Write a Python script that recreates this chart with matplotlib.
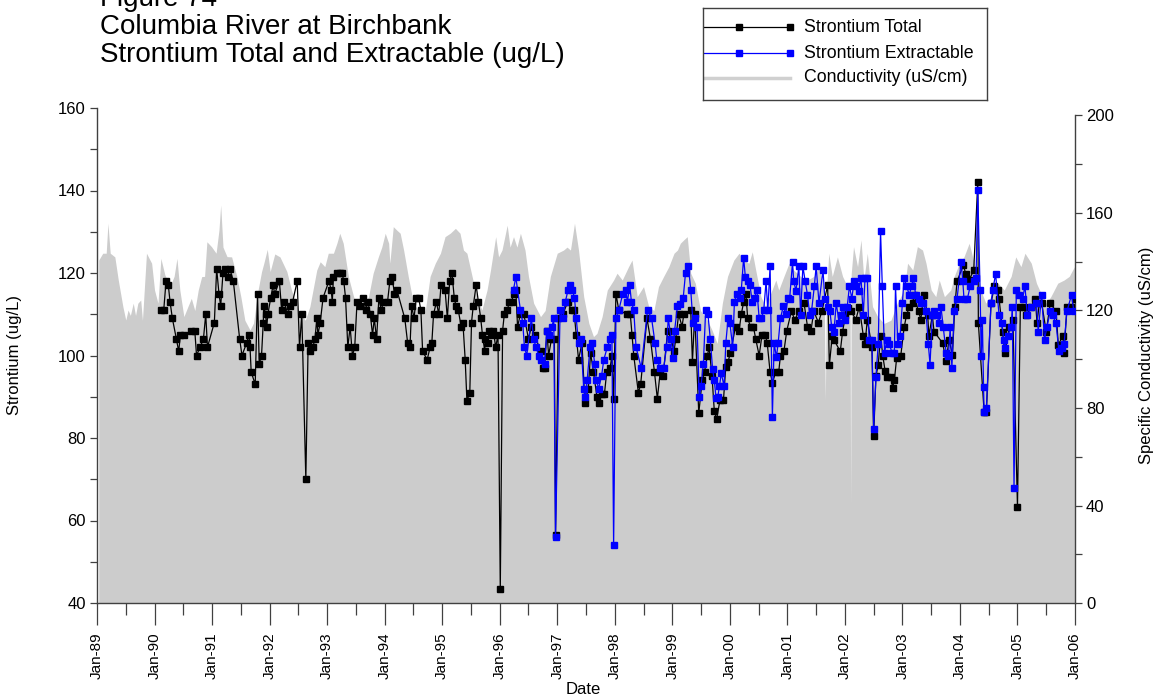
import numpy as np
import matplotlib
matplotlib.use("Agg")
import matplotlib.pyplot as plt
from matplotlib.lines import Line2D

plt.rcParams['font.family'] = ['Liberation Sans', 'DejaVu Sans']

# ---------------- data (decimal years, values) ----------------
total_year = [
    1990.11, 1990.16, 1990.20, 1990.24, 1990.27, 1990.31, 1990.38, 1990.42, 1990.45, 1990.51,
    1990.64, 1990.70, 1990.73, 1990.79, 1990.85, 1990.89, 1990.92, 1991.04, 1991.08, 1991.12,
    1991.15, 1991.19, 1991.23, 1991.27, 1991.31, 1991.37, 1991.48, 1991.52, 1991.60, 1991.64,
    1991.66, 1991.68, 1991.75, 1991.79, 1991.82, 1991.86, 1991.89, 1991.90, 1991.93, 1991.95,
    1991.97, 1992.02, 1992.06, 1992.09, 1992.17, 1992.21, 1992.25, 1992.32, 1992.35, 1992.40,
    1992.48, 1992.52, 1992.56, 1992.63, 1992.67, 1992.71, 1992.75, 1992.79, 1992.82, 1992.84,
    1992.88, 1992.93, 1993.03, 1993.07, 1993.09, 1993.11, 1993.18, 1993.22, 1993.26, 1993.29,
    1993.32, 1993.36, 1993.40, 1993.44, 1993.48, 1993.52, 1993.57, 1993.63, 1993.67, 1993.71,
    1993.75, 1993.79, 1993.82, 1993.86, 1993.90, 1993.94, 1993.98, 1994.05, 1994.09, 1994.13,
    1994.17, 1994.21, 1994.35, 1994.40, 1994.44, 1994.47, 1994.51, 1994.55, 1994.59, 1994.63,
    1994.66, 1994.74, 1994.79, 1994.82, 1994.85, 1994.90, 1994.94, 1994.98, 1995.05, 1995.09,
    1995.13, 1995.17, 1995.21, 1995.24, 1995.28, 1995.33, 1995.36, 1995.40, 1995.43, 1995.48,
    1995.51, 1995.54, 1995.59, 1995.63, 1995.67, 1995.70, 1995.74, 1995.75, 1995.79, 1995.82,
    1995.86, 1995.89, 1995.93, 1995.97, 1996.01, 1996.05, 1996.08, 1996.13, 1996.17, 1996.21,
    1996.24, 1996.28, 1996.31, 1996.36, 1996.42, 1996.50, 1996.55, 1996.61, 1996.71, 1996.75,
    1996.78, 1996.82, 1996.85, 1996.90, 1996.95, 1996.97, 1997.02, 1997.10, 1997.18, 1997.25,
    1997.29, 1997.33, 1997.37, 1997.43, 1997.48, 1997.54, 1997.58, 1997.63, 1997.69, 1997.72,
    1997.77, 1997.82, 1997.86, 1997.92, 1997.95, 1997.98, 1998.02, 1998.07, 1998.21, 1998.27,
    1998.30, 1998.33, 1998.41, 1998.45, 1998.56, 1998.62, 1998.69, 1998.74, 1998.79, 1998.84,
    1998.92, 1998.98, 1999.03, 1999.06, 1999.11, 1999.17, 1999.20, 1999.32, 1999.35, 1999.39,
    1999.46, 1999.52, 1999.56, 1999.61, 1999.64, 1999.69, 1999.73, 1999.77, 1999.83, 1999.89,
    1999.93, 1999.97, 2000.01, 2000.10, 2000.16, 2000.20, 2000.24, 2000.28, 2000.31, 2000.36,
    2000.41, 2000.45, 2000.51, 2000.56, 2000.62, 2000.65, 2000.70, 2000.74, 2000.80, 2000.85,
    2000.88, 2000.94, 2000.99, 2001.07, 2001.13, 2001.20, 2001.29, 2001.35, 2001.41, 2001.46,
    2001.54, 2001.60, 2001.70, 2001.73, 2001.78, 2001.81, 2001.92, 2001.96, 2002.01, 2002.06,
    2002.11, 2002.19, 2002.25, 2002.32, 2002.35, 2002.39, 2002.47, 2002.50, 2002.54, 2002.58,
    2002.62, 2002.66, 2002.70, 2002.74, 2002.80, 2002.83, 2002.86, 2002.90, 2002.97, 2003.03,
    2003.07, 2003.12, 2003.18, 2003.20, 2003.28, 2003.32, 2003.37, 2003.44, 2003.46, 2003.52,
    2003.55, 2003.70, 2003.76, 2003.81, 2003.87, 2003.91, 2003.95, 2004.06, 2004.10, 2004.16,
    2004.24, 2004.31, 2004.32, 2004.42, 2004.46, 2004.54, 2004.60, 2004.66, 2004.68, 2004.74,
    2004.78, 2004.86, 2004.92, 2005.00, 2005.05, 2005.11, 2005.15, 2005.24, 2005.31, 2005.34,
    2005.38, 2005.42, 2005.50, 2005.57, 2005.67, 2005.71, 2005.79, 2005.81, 2005.86, 2005.93,
    2006.00,
]
total_val = [
    111, 111, 118, 117, 113, 109, 104, 101, 105, 105,
    106, 106, 100, 102, 104, 110, 102, 108, 121, 115,
    112, 120, 121, 119, 121, 118, 104, 100, 103, 105,
    102, 96, 93, 115, 98, 100, 108, 112, 110, 107,
    110, 114, 117, 115, 118, 111, 113, 110, 112, 113,
    118, 102, 110, 70, 103, 101, 102, 104, 109, 105,
    108, 114, 118, 116, 113, 119, 120, 120, 120, 118,
    114, 102, 107, 100, 102, 113, 112, 114, 111, 113,
    110, 105, 109, 104, 114, 111, 113, 113, 118, 119,
    115, 116, 109, 103, 102, 112, 109, 114, 114, 111,
    101, 99, 102, 103, 110, 113, 110, 117, 116, 109,
    118, 120, 114, 112, 111, 107, 108, 99, 89, 91,
    108, 112, 117, 113, 109, 105, 101, 104, 103, 106,
    105, 106, 102, 105, 43.3, 106, 110, 111, 113, 113,
    115, 116, 107, 110, 110, 104, 107, 105, 101, 97,
    97, 106, 100, 104, 104, 56.5, 109, 110, 113, 111,
    111, 105, 99, 103, 88.5, 92, 100.6, 96, 90, 88.5,
    90.6, 90.6, 96, 97, 100, 89.5, 115, 111, 110, 110,
    105, 100, 91, 93, 109, 104, 96, 89.5, 96, 95,
    106, 104, 101, 104, 110, 107, 110, 111, 98.5, 110,
    86, 94, 96, 100, 102, 95, 86.6, 84.5, 89.3, 89.3,
    97.3, 98.5, 100.7, 107, 106, 110, 113, 115, 109, 107,
    107, 104, 100, 105, 105, 103, 96, 93.4, 96, 96,
    100, 101, 106, 110.7, 108.7, 110.7, 112.7, 107, 106, 110.7,
    108, 110.7, 117, 97.6, 104.8, 103.8, 101, 105.8, 109.7, 111.4,
    110.7, 108.7, 111.8, 104.8, 102.8, 108.7, 102, 80.6, 95, 97.8,
    104.8, 99.8, 96.2, 94.8, 94.8, 92.2, 94, 99.4, 99.8, 106.8,
    109.7, 111.8, 112.7, 114.7, 110.7, 108.7, 114.7, 109.7, 104.8, 109.7,
    105.8, 103, 98.6, 103.8, 100.2, 111.8, 118, 121.9, 119.8, 118.3,
    120.7, 142, 107.9, 86.4, 86.4, 112.7, 116.9, 115.8, 113.8, 105.8,
    100.7, 106.8, 108.7, 63.3, 111.8, 111.8, 109.7, 111.8, 113.8, 107.9,
    112.7, 112.7, 105.8, 112.7, 110.7, 102.6, 104.8, 100.7, 111.8, 111.8,
    113.8,
]

extr_year = [
    1996.24, 1996.28, 1996.36, 1996.40, 1996.43, 1996.47, 1996.55, 1996.59, 1996.63, 1996.68,
    1996.71, 1996.78, 1996.82, 1996.86, 1996.91, 1996.94, 1996.97, 1997.05, 1997.10, 1997.14,
    1997.19, 1997.23, 1997.26, 1997.30, 1997.33, 1997.37, 1997.41, 1997.46, 1997.49, 1997.52,
    1997.57, 1997.61, 1997.65, 1997.68, 1997.72, 1997.77, 1997.81, 1997.87, 1997.92, 1997.95,
    1997.98, 1998.02, 1998.07, 1998.14, 1998.19, 1998.22, 1998.26, 1998.29, 1998.33, 1998.37,
    1998.46, 1998.57, 1998.64, 1998.70, 1998.73, 1998.79, 1998.85, 1998.90, 1998.93, 1998.98,
    1999.01, 1999.04, 1999.09, 1999.14, 1999.19, 1999.23, 1999.28, 1999.32, 1999.36, 1999.39,
    1999.43, 1999.47, 1999.50, 1999.54, 1999.58, 1999.62, 1999.66, 1999.70, 1999.73, 1999.76,
    1999.79, 1999.82, 1999.85, 1999.90, 1999.93, 1999.97, 2000.00, 2000.05, 2000.08, 2000.12,
    2000.17, 2000.20, 2000.24, 2000.27, 2000.31, 2000.35, 2000.39, 2000.43, 2000.47, 2000.51,
    2000.55, 2000.59, 2000.63, 2000.66, 2000.70, 2000.74, 2000.77, 2000.81, 2000.84, 2000.88,
    2000.93, 2000.97, 2001.01, 2001.04, 2001.09, 2001.11, 2001.15, 2001.20, 2001.23, 2001.27,
    2001.31, 2001.35, 2001.39, 2001.42, 2001.47, 2001.50, 2001.55, 2001.62, 2001.65, 2001.71,
    2001.74, 2001.77, 2001.81, 2001.85, 2001.90, 2001.93, 2001.97, 2002.01, 2002.04, 2002.08,
    2002.12, 2002.16, 2002.20, 2002.24, 2002.28, 2002.32, 2002.35, 2002.39, 2002.42, 2002.47,
    2002.50, 2002.54, 2002.58, 2002.62, 2002.65, 2002.69, 2002.73, 2002.77, 2002.82, 2002.86,
    2002.88, 2002.92, 2002.96, 2003.00, 2003.03, 2003.07, 2003.12, 2003.16, 2003.19, 2003.23,
    2003.28, 2003.32, 2003.36, 2003.41, 2003.45, 2003.48, 2003.52, 2003.55, 2003.60, 2003.64,
    2003.67, 2003.71, 2003.76, 2003.80, 2003.83, 2003.86, 2003.90, 2003.95, 2004.02, 2004.05,
    2004.07, 2004.13, 2004.18, 2004.24, 2004.28, 2004.31, 2004.35, 2004.37, 2004.39, 2004.41,
    2004.42, 2004.46, 2004.54, 2004.57, 2004.62, 2004.68, 2004.73, 2004.76, 2004.78, 2004.83,
    2004.89, 2004.91, 2004.94, 2004.98, 2005.03, 2005.09, 2005.13, 2005.17, 2005.24, 2005.33,
    2005.36, 2005.42, 2005.47, 2005.51, 2005.57, 2005.61, 2005.67, 2005.72, 2005.77, 2005.81,
    2005.86, 2005.94, 2005.98,
]
extr_val = [
    116, 119, 111, 108, 102, 100, 109, 104, 102, 100,
    99, 98, 106, 105, 107, 109, 56, 111, 109, 113,
    116, 117, 116, 114, 109, 103, 104, 92, 90, 94,
    102, 103, 98, 94, 92, 95, 99, 102, 104, 105,
    54, 109, 111, 115, 116, 113, 117, 113, 111, 102,
    97, 111, 109, 103, 99, 97, 97, 102, 109, 104,
    99.4, 106, 112, 112.5, 114, 120, 121.6, 116, 108, 109,
    107, 90, 92.6, 98, 111, 110, 104, 96.7, 94, 89.7,
    90, 92.5, 95.7, 92.6, 103, 109, 108, 102, 113, 115,
    114, 116, 123.7, 119, 118, 117, 113, 114, 116, 109,
    109, 111, 118, 111, 121.6, 85, 103, 99.6, 103, 109,
    112, 110, 114, 113.8, 122.6, 118, 115.7, 121.6, 109.7, 121.6,
    118, 114.7, 109.7, 110.7, 116.9, 121.6, 112.7, 120.7, 113.8, 111.8,
    110.7, 107, 105.8, 112.7, 107.9, 109.7, 111.8, 108.7, 111.8, 116.9,
    113.8, 118, 116.9, 115.7, 118.8, 109.7, 118.8, 118.8, 103.8, 103.8,
    82.3, 94.9, 102.8, 130.1, 116.9, 100.7, 103.8, 102.8, 100.7, 100.7,
    116.9, 102.8, 104.8, 112.7, 118.8, 116.9, 114.7, 116.9, 118.8, 114.7,
    113.8, 112.7, 112.7, 110.7, 102.8, 97.8, 109.7, 110.7, 109.7, 107.9,
    111.8, 106.8, 100.7, 99.8, 106.8, 97, 110.7, 113.8, 122.6, 118,
    113.8, 113.8, 116.9, 118, 118.8, 140.2, 115.8, 99.8, 108.7, 92.4,
    86.2, 87.3, 112.7, 115.8, 119.8, 109.7, 107.9, 103.8, 101.8, 104.8,
    106.8, 111.8, 68, 115.8, 114.7, 113.8, 116.9, 109.7, 111.8, 112.7,
    105.8, 114.7, 103.8, 106.8, 110.7, 109.7, 107.9, 101, 101.8, 102.8,
    110.7, 114.7, 110.7,
]

cond_year = [
    1989.03, 1989.10, 1989.16, 1989.19, 1989.23, 1989.31, 1989.37, 1989.45, 1989.50, 1989.54,
    1989.58, 1989.63, 1989.67, 1989.71, 1989.76, 1989.79, 1989.86, 1989.95, 1990.00, 1990.06,
    1990.11, 1990.18, 1990.27, 1990.34, 1990.39, 1990.44, 1990.51, 1990.58, 1990.64, 1990.70,
    1990.76, 1990.82, 1990.87, 1990.91, 1990.99, 1991.07, 1991.12, 1991.15, 1991.19, 1991.26,
    1991.34, 1991.43, 1991.50, 1991.57, 1991.66, 1991.72, 1991.80, 1991.86, 1991.90, 1991.96,
    1992.01, 1992.09, 1992.18, 1992.30, 1992.38, 1992.50, 1992.62, 1992.70, 1992.82, 1992.88,
    1992.96, 1993.02, 1993.11, 1993.17, 1993.22, 1993.28, 1993.37, 1993.46, 1993.54, 1993.63,
    1993.72, 1993.80, 1993.89, 1993.95, 1994.01, 1994.07, 1994.09, 1994.15, 1994.21, 1994.27,
    1994.33, 1994.41, 1994.50, 1994.59, 1994.70, 1994.79, 1994.88, 1994.97, 1995.05, 1995.14,
    1995.23, 1995.31, 1995.37, 1995.43, 1995.52, 1995.60, 1995.69, 1995.78, 1995.84, 1995.93,
    1995.98, 1996.04, 1996.13, 1996.18, 1996.24, 1996.30, 1996.36, 1996.44, 1996.50, 1996.59,
    1996.71, 1996.79, 1996.88, 1997.00, 1997.11, 1997.17, 1997.23, 1997.30, 1997.37, 1997.46,
    1997.55, 1997.63, 1997.69, 1997.78, 1997.87, 1997.98, 1998.04, 1998.13, 1998.24, 1998.30,
    1998.39, 1998.50, 1998.59, 1998.68, 1998.76, 1998.85, 1998.94, 1999.03, 1999.09, 1999.14,
    1999.20, 1999.26, 1999.32, 1999.40, 1999.49, 1999.61, 1999.69, 1999.78, 1999.87, 1999.96,
    2000.07, 2000.16, 2000.24, 2000.33, 2000.39, 2000.45, 2000.54, 2000.62, 2000.71, 2000.80,
    2000.85, 2000.94, 2001.03, 2001.11, 2001.23, 2001.35, 2001.46, 2001.55, 2001.64, 2001.66,
    2001.68, 2001.72, 2001.78, 2001.87, 2001.96, 2002.04, 2002.09, 2002.10, 2002.11, 2002.15,
    2002.22, 2002.28, 2002.33, 2002.39, 2002.48, 2002.57, 2002.68, 2002.80, 2002.91, 2003.03,
    2003.09, 2003.18, 2003.26, 2003.35, 2003.41, 2003.50, 2003.58, 2003.64, 2003.73, 2003.84,
    2003.90, 2003.99, 2004.07, 2004.16, 2004.22, 2004.31, 2004.36, 2004.45, 2004.54, 2004.66,
    2004.77, 2004.89, 2004.97, 2005.06, 2005.13, 2005.24, 2005.33, 2005.41, 2005.50, 2005.58,
    2005.70, 2005.81, 2005.90, 2005.99,
]
cond_val = [
    140.7, 143.5, 143.5, 155.8, 143.5, 142, 132.5, 121.6, 116.1, 120.2,
    118, 123, 118, 123, 124.3, 116, 143.5, 139.4, 128.4, 123,
    141.4, 134.6, 130, 134, 141.4, 128.4, 117.5, 121.6, 125, 120,
    128.4, 133.9, 134, 148.2, 146.2, 143.5, 153, 163.3, 146, 142.1,
    142, 134, 125.7, 116, 112, 114.8, 128.4, 135.9, 139.4, 145.1,
    136, 143.2, 142, 136, 128.4, 120, 116, 121.6, 136.6, 140,
    138, 143.5, 143.5, 147.6, 151.7, 147.6, 133.9, 125.7, 121.6, 121.6,
    125.7, 135.3, 142, 146, 151.7, 147.6, 139.4, 154.4, 153, 151.7,
    144.8, 134, 123, 120, 118.8, 134, 139.4, 143.5, 150.3, 151.7,
    153.7, 151.7, 144.8, 143.5, 134, 125.7, 120.2, 128.4, 136.6, 150.3,
    142, 144.8, 155, 146, 150.3, 146, 151.7, 144.8, 134, 123,
    117.5, 120, 134, 143.5, 144.8, 146, 144.8, 155.8, 144.8, 125.7,
    114.7, 109.3, 110.6, 117.5, 128.4, 132.5, 135.3, 132.5, 138, 140.7,
    125.7, 129.8, 121.6, 120, 129.8, 134, 138, 143.5, 144.8, 147.6,
    149, 150.3, 135.3, 131.2, 120, 116, 112, 106.5, 123, 134,
    140.7, 143.5, 140.7, 139.4, 144.1, 136.6, 125.7, 121.6, 127, 132.5,
    128.4, 134, 139.4, 136.6, 134, 132.5, 134, 138, 128.4, 83,
    128, 143.5, 134, 142, 134, 130, 130, 40, 135, 146.2,
    138, 149, 132.5, 143.5, 121.6, 117.5, 114.7, 116, 123, 128.4,
    139.4, 136.6, 146.2, 144.8, 139.4, 128.4, 125.7, 132.5, 125.7, 128.4,
    134, 139.4, 142, 147.6, 142, 134, 128.4, 123, 125.7, 131.2,
    128.4, 134, 142, 138, 143.5, 139.4, 131.2, 127, 123, 125.7,
    131.2, 132.5, 134, 138,
]

year_ticks = list(range(1989, 2007))
year_labels = ["Jan-%02d" % (y % 100) for y in year_ticks]

# ---------------- figure ----------------
W, H = 1162, 698
fig = plt.figure(figsize=(W / 100, H / 100), dpi=100)
ax_l, ax_r, ax_b, ax_t = 97, 1075, 603, 108
ax = fig.add_axes([ax_l / W, 1 - ax_b / H, (ax_r - ax_l) / W, (ax_b - ax_t) / H])
ax2 = ax.twinx()

spine_col = '#404040'
# conductivity area on the right axis
o = np.argsort(cond_year)
cy = np.array(cond_year)[o]
cv = np.array(cond_val)[o]
ax2.fill_between(cy, 0, cv, color='#cccccc', linewidth=0)

# strontium series on the left axis (drawn above the area)
o = np.argsort(total_year)
ax.plot(np.array(total_year)[o], np.array(total_val)[o], color='black', lw=0.9,
        marker='s', ms=4.8, mfc='black', mec='black', zorder=3)
o = np.argsort(extr_year)
ax.plot(np.array(extr_year)[o], np.array(extr_val)[o], color='#0000ff', lw=0.9,
        marker='s', ms=4.8, mfc='#0000ff', mec='#0000ff', zorder=4)

ax.set_zorder(ax2.get_zorder() + 1)
ax.patch.set_visible(False)

ax.set_xlim(1989, 2006)
ax.set_ylim(40, 160)
ax2.set_ylim(0, 200 * (ax_b - ax_t) / 487.5)

# spines
for a in (ax, ax2):
    a.spines['top'].set_visible(False)
    for s in a.spines.values():
        s.set_color(spine_col)
        s.set_linewidth(1.0)
ax.spines['right'].set_visible(False)
ax2.spines['left'].set_visible(False)
ax2.spines['bottom'].set_visible(False)
ax2.spines['right'].set_bounds(0, 200)

# x ticks
ax.set_xticks(year_ticks)
ax.set_xticklabels(year_labels, rotation=90, fontsize=11)
ax.set_xticks([y + 0.5 for y in year_ticks[:-1]], minor=True)
ax.tick_params(axis='x', which='major', direction='out', length=16, width=0.9,
               color=spine_col, pad=5)
ax.tick_params(axis='x', which='minor', direction='out', length=8.5, width=0.9,
               color=spine_col)

# left y ticks
ax.set_yticks(np.arange(40, 161, 20))
ax.set_yticks(np.arange(50, 160, 20), minor=True)
ax.tick_params(axis='y', which='both', direction='out', length=5, width=0.9,
               color=spine_col, labelsize=12, pad=3)

# right y ticks
ax2.set_yticks(np.arange(0, 201, 40))
ax2.set_yticks(np.arange(20, 200, 40), minor=True)
ax2.tick_params(axis='y', which='both', direction='out', length=5, width=0.9,
                color=spine_col, labelsize=12, pad=3)

# axis labels
fig.text(15 / W, 1 - 355 / H, 'Strontium (ug/L)', rotation=90, ha='center',
         va='center', fontsize=12)
fig.text(1147 / W, 1 - 355 / H, 'Specific Conductivity (uS/cm)', rotation=90,
         ha='center', va='center', fontsize=12)
fig.text(583 / W, 1 - 690 / H, 'Date', ha='center', va='center', fontsize=12)

# titles
fig.text(100 / W, 1 - 6 / H, 'Figure 74', fontsize=20, va='baseline', ha='left')
fig.text(100 / W, 1 - 34 / H, 'Columbia River at Birchbank', fontsize=20,
         va='baseline', ha='left')
fig.text(100 / W, 1 - 62 / H, 'Strontium Total and Extractable (ug/L)', fontsize=20,
         va='baseline', ha='left')

# legend box
lx0, lx1, ly0, ly1 = 703, 987, 8, 100
lax = fig.add_axes([lx0 / W, 1 - ly1 / H, (lx1 - lx0) / W, (ly1 - ly0) / H])
lax.set_xlim(0, lx1 - lx0)
lax.set_ylim(ly1 - ly0, 0)
lax.set_xticks([])
lax.set_yticks([])
for s in lax.spines.values():
    s.set_color(spine_col)
    s.set_linewidth(1.0)
rows = [(19, 'black', 'Strontium Total', True),
        (45, '#0000ff', 'Strontium Extractable', True),
        (70, '#d0d0d0', 'Conductivity (uS/cm)', False)]
for yy, c, lab, mk in rows:
    if mk:
        lax.add_line(Line2D([1, 87], [yy, yy], color=c, lw=0.9))
        lax.add_line(Line2D([36, 87], [yy, yy], color=c, lw=0, marker='s', ms=4.6,
                            mfc=c, mec=c))
    else:
        lax.add_line(Line2D([1, 87], [yy, yy], color=c, lw=2.5))
    lax.text(101, yy, lab, fontsize=12.8, va='center', ha='left')

fig.savefig('out.png', dpi=100)
